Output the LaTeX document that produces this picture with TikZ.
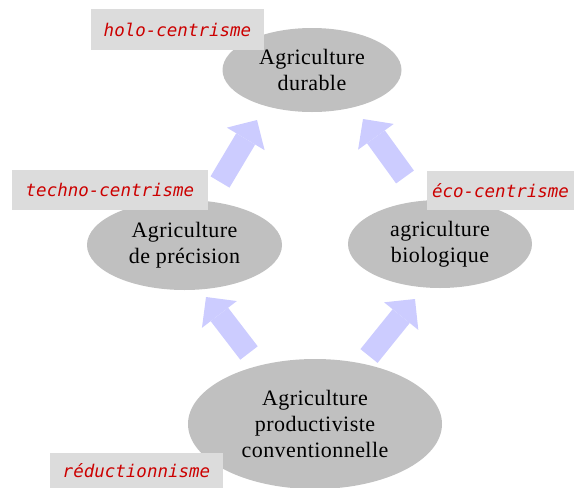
\documentclass[tikz,border=0pt]{standalone}
\usepackage{fontspec}
\setmainfont{Liberation Serif}[LetterSpace=2]
\newfontfamily\lblfont{DejaVu Sans Mono}
\usetikzlibrary{shapes.geometric,arrows.meta}
\definecolor{ellgray}{HTML}{C0C0C0}
\definecolor{boxgray}{HTML}{DCDCDC}
\definecolor{arrowc}{HTML}{CCCCFF}
\definecolor{lblred}{HTML}{CC0000}
\tikzset{
  agri/.style={ellipse, fill=ellgray, inner sep=0pt, align=center,
    font=\fontsize{22}{26}\selectfont},
  lbl/.style={fill=boxgray, inner sep=0pt, text=lblred,
    font=\lblfont\itshape\fontsize{17.5}{20}\selectfont},
  bigarrow/.style={draw=arrowc, line width=22pt,
    -{Triangle[length=22pt,width=44pt,line width=0pt]}}
}
\begin{document}
\begin{tikzpicture}[x=1pt,y=-1pt]
\useasboundingbox (0,0) rectangle (574,488);
% arrows
\coordinate (ulA) at (220,182); \coordinate (ulB) at (257,120);
\coordinate (urA) at (405,177); \coordinate (urB) at (363,119);
\coordinate (llA) at (249,353); \coordinate (llB) at (206,297);
\coordinate (lrA) at (369,356); \coordinate (lrB) at (415,299);
\draw[bigarrow] (ulA) -- (ulB);
\draw[bigarrow] (urA) -- (urB);
\draw[bigarrow] (llA) -- (llB);
\draw[bigarrow] (lrA) -- (lrB);
% ellipses
\node[agri, minimum width=179pt, minimum height=84pt] (dur) at (312,70) {Agriculture\\durable};
\node[agri, minimum width=195pt, minimum height=90pt] (prec) at (184.5,245) {Agriculture\\de précision};
\node[agri, minimum width=184pt, minimum height=88pt] (bio) at (440,244) {agriculture\\biologique};
\node[agri, minimum width=254pt, minimum height=130pt] (prod) at (315,424) {Agriculture\\productiviste\\conventionnelle};
% labels
\node[lbl, minimum width=173pt, minimum height=41pt] (holo) at (177.5,29.5) {holo-centrisme};
\node[lbl, minimum width=196pt, minimum height=40pt] (techno) at (110,190) {techno-centrisme};
\node[lbl, minimum width=147pt, minimum height=39pt] (eco) at (500.5,190.5) {éco-centrisme};
\node[lbl, minimum width=173pt, minimum height=36pt] (reduc) at (136.5,471) {réductionnisme};
\end{tikzpicture}
\end{document}
